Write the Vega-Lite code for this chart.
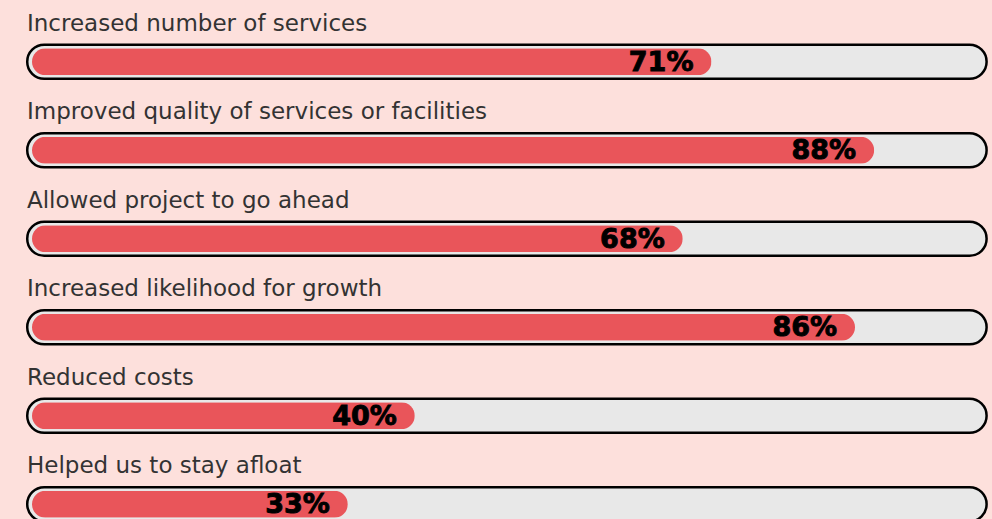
{
  "$schema": "https://vega.github.io/schema/vega-lite/v6.json",
  "autosize": {"type": "none"},
  "padding": {"left": 32, "top": 17.5, "right": 3, "bottom": 0},
  "width": 957,
  "height": 531,
  "background": "#fde0dc",
  "config": {"view": {"stroke": null}},
  "data": {
    "values": [
      {"label": "Increased number of services", "pct": 0.71},
      {"label": "Improved quality of services or facilities", "pct": 0.88},
      {"label": "Allowed project to go ahead", "pct": 0.68},
      {"label": "Increased likelihood for growth", "pct": 0.86},
      {"label": "Reduced costs", "pct": 0.40},
      {"label": "Helped us to stay afloat", "pct": 0.33}
    ]
  },
  "encoding": {
    "y": {"field": "label", "type": "nominal", "sort": null, "scale": {"paddingInner": 0, "paddingOuter": 0}, "axis": null}
  },
  "layer": [
    {
      "mark": {"type": "bar", "cornerRadius": 17, "fill": "#e8e8e8", "stroke": "#000000", "strokeWidth": 2.5},
      "encoding": {
        "x": {"datum": -0.005, "type": "quantitative", "scale": {"domain": [0, 1], "nice": false, "zero": false}, "axis": null},
        "x2": {"datum": 0.9975},
        "size": {"value": 34}
      }
    },
    {
      "mark": {"type": "bar", "cornerRadius": 13.5, "fill": "#e9555a"},
      "encoding": {
        "x": {"field": "pct", "type": "quantitative"},
        "size": {"value": 27}
      }
    },
    {
      "mark": {"type": "text", "align": "right", "baseline": "middle", "dx": -18, "dy": 1, "font": "DejaVu Sans", "fontWeight": "bold", "fontSize": 27, "fill": "#000000", "stroke": "#000000", "strokeWidth": 0.9},
      "encoding": {
        "x": {"field": "pct", "type": "quantitative"},
        "text": {"field": "pct", "type": "quantitative", "format": ".0%"}
      }
    },
    {
      "mark": {"type": "text", "align": "left", "baseline": "middle", "dx": -5, "dy": -38, "font": "DejaVu Sans", "fontSize": 23, "fill": "#333333"},
      "encoding": {
        "x": {"datum": 0, "type": "quantitative"},
        "text": {"field": "label", "type": "nominal"}
      }
    }
  ]
}
